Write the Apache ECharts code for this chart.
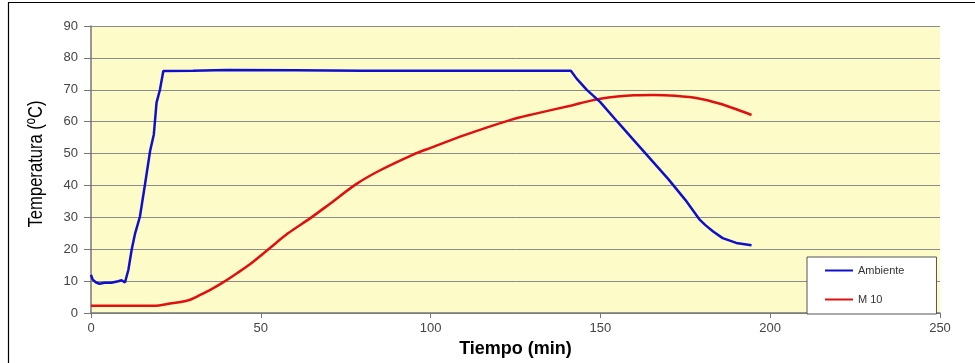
<!DOCTYPE html>
<html>
<head>
<meta charset="utf-8">
<script src="https://cdn.jsdelivr.net/npm/echarts@6/dist/echarts.min.js"></script>
<style>
html,body{margin:0;padding:0;background:#fff;}
#chart{width:975px;height:363px;}
</style>
</head>
<body>
<div id="chart"></div>
<script>
// Ambiente (blue)
const ambT = [0, 0.5, 1.5, 2.5, 4, 6, 8, 9, 10, 11, 12, 13, 14.4, 16, 17.4, 18.5, 19.3, 20.3, 21.3, 30, 40, 60, 80, 100, 120, 141.3, 143, 146, 149.9, 155, 160, 163.6, 170, 175, 179.3, 181, 183.2, 186, 190, 194.5];
const ambV = [12, 10.5, 9.6, 9.2, 9.5, 9.5, 10, 10.3, 9.6, 13.5, 20, 25, 30.2, 41, 50.8, 56, 66, 70, 75.9, 76, 76.2, 76.1, 76, 76, 76, 76, 73.5, 70, 66.2, 60, 54, 49.7, 42, 35.5, 29.2, 27.5, 25.6, 23.5, 22, 21.3];
// M 10 (red)
const m10T = [0, 5, 10, 15, 20, 23.3, 26, 29.2, 32, 35.5, 39, 43, 46.8, 52.7, 58, 64.5, 70, 78.2, 85, 94.9, 100, 110, 123.4, 130, 141.5, 146, 150, 155, 160, 165.6, 172, 179.3, 185, 190, 194.5];
const m10V = [2.3, 2.3, 2.3, 2.3, 2.4, 3.0, 3.4, 4.2, 5.6, 7.5, 9.7, 12.5, 15.3, 20.4, 25, 29.7, 34, 40.5, 44.7, 49.7, 51.8, 55.8, 60.5, 62.3, 65.1, 66.3, 67.2, 67.9, 68.3, 68.4, 68.1, 67.2, 65.7, 63.9, 62.1];
const seriesNames = ['Ambiente', 'M 10'];
const xTitle = 'Tiempo (min)';
const yTitle = 'Temperatura (ºC)';

const pairs = (t, v) => t.map((x, i) => [x, v[i]]);

const chart = echarts.init(document.getElementById('chart'), null, {renderer: 'canvas'});
chart.setOption({
  animation: false,
  backgroundColor: '#fff',
  grid: {left: 91, right: 35, top: 26, bottom: 45, show: true, backgroundColor: '#FDFCC9', borderWidth: 0},
  graphic: [{
    type: 'rect', z: 100, silent: true,
    shape: {x: 8.5, y: 2.5, width: 1000, height: 400},
    style: {fill: 'none', stroke: '#000', lineWidth: 1.2}
  }, {
    type: 'text', silent: true, z: 50,
    x: 36, y: 164, rotation: Math.PI / 2, scaleX: 0.83, scaleY: 1,
    style: {text: yTitle, fontFamily: 'Liberation Sans, Arial, sans-serif', fontSize: 20, fill: '#000',
            align: 'center', verticalAlign: 'middle'}
  }],
  legend: {
    orient: 'vertical', left: 807, top: 257,
    padding: [8, 32, 9, 18], itemGap: 18,
    backgroundColor: '#fff', borderColor: '#555', borderWidth: 1,
    itemWidth: 28, itemHeight: 2, icon: 'rect',
    textStyle: {fontFamily: 'Liberation Sans, Arial, sans-serif', fontSize: 11, color: '#333'},
    data: seriesNames
  },
  xAxis: {
    type: 'value', min: 0, max: 250, interval: 50,
    name: xTitle, nameLocation: 'middle', nameGap: 20,
    nameTextStyle: {fontFamily: 'Liberation Sans, Arial, sans-serif', fontSize: 18, fontWeight: 'bold', color: '#000'},
    axisLine: {show: true, lineStyle: {color: '#777', width: 1.5}},
    axisTick: {show: true, length: 5, lineStyle: {color: '#777'}},
    axisLabel: {margin: 9, fontFamily: 'Liberation Sans, Arial, sans-serif', fontSize: 13, color: '#444'},
    splitLine: {show: false}
  },
  yAxis: {
    type: 'value', min: 0, max: 90, interval: 10,
    axisLine: {show: true, lineStyle: {color: '#777', width: 1.5}},
    axisTick: {show: true, length: 7, lineStyle: {color: '#777'}},
    axisLabel: {margin: 13, fontFamily: 'Liberation Sans, Arial, sans-serif', fontSize: 13, color: '#444'},
    splitLine: {show: true, lineStyle: {color: '#8a8a8a', width: 1}}
  },
  series: [
    {name: seriesNames[0], type: 'line', data: pairs(ambT, ambV), showSymbol: false, symbol: 'none',
     lineStyle: {color: '#1010CC', width: 2.5}, itemStyle: {color: '#1010CC'}, z: 3},
    {name: seriesNames[1], type: 'line', data: pairs(m10T, m10V), showSymbol: false, symbol: 'none',
     smooth: 0.3,
     lineStyle: {color: '#E01010', width: 2.5}, itemStyle: {color: '#E01010'}, z: 2}
  ]
});
</script>
</body>
</html>
